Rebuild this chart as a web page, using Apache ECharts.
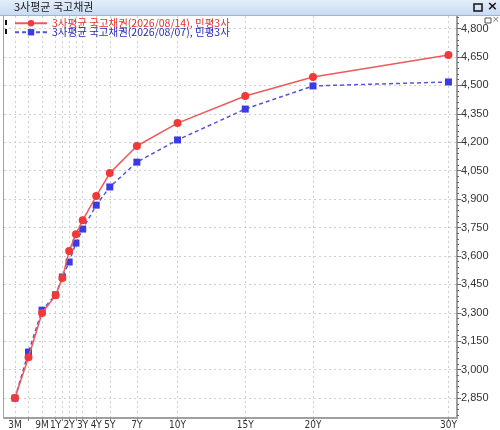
<!DOCTYPE html>
<html><head><meta charset="utf-8">
<script src="https://cdn.jsdelivr.net/npm/echarts@6/dist/echarts.min.js"></script>
<style>html,body{margin:0;padding:0;background:#fff}#c{width:500px;height:430px}</style>
</head><body><div id="c"></div>
<script>
const chartTitle = '3사평균 국고채권';
const seriesNames = ['3사평균 국고채권(2026/08/14), 민평3사', '3사평균 국고채권(2026/08/07), 민평3사'];
const tenors = ['3M','6M','9M','1Y','1.5Y','2Y','2.5Y','3Y','4Y','5Y','7Y','10Y','15Y','20Y','30Y'];
const tenorYears = [0.25,0.5,0.75,1,1.5,2,2.5,3,4,5,7,10,15,20,30];
const seriesA = [2850,3066,3299,3392,3483,3626,3715,3789,3916,4037,4180,4301,4444,4544,4660];
const seriesB = [2850,3093,3314,3395,3489,3568,3668,3742,3868,3964,4095,4212,4375,4497,4518];
const xTickLabels = ['3M','9M','1Y','2Y','3Y','4Y','5Y','7Y','10Y','15Y','20Y','30Y'];
const yTickLabels = [2850,3000,3150,3300,3450,3600,3750,3900,4050,4200,4350,4500,4650,4800];

// axis mapping: quarters below 1Y are stretched to one year-width each
function pos(t){ return t < 1 ? 4*t - 3 : t; }
const yearOf = {}; tenors.forEach((n,i)=>{ yearOf[n] = tenorYears[i]; });
const labelPos = xTickLabels.map(n => pos(yearOf[n]));
function labelFor(v){ for (const n of xTickLabels){ if (Math.abs(pos(yearOf[n]) - v) < 1e-6) return n; } return ''; }
const minorTicks = []; for (let v = 2760; v <= 4860; v += 30) minorTicks.push(v);

const chart = echarts.init(document.getElementById('c'), null, {renderer:'canvas'});
const axisFont = {fontFamily:'"Liberation Sans"', fontSize:11, color:'#333'};
const xFont = {fontFamily:'"DejaVu Sans Condensed", "Liberation Sans"', fontSize:10, color:'#333'};
const YMIN = 2745, YMAX = 4866;
const legendBase = {orient:'horizontal', left:14, itemWidth:32, itemHeight:8, itemGap:0,
  textStyle:{fontFamily:'Noto Sans CJK KR', fontSize:10.5}, padding:0};
chart.setOption({
  animation:false,
  backgroundColor:'#fff',
  graphic:[
    {type:'rect', left:0, top:0, shape:{width:500, height:15},
     style:{fill:new echarts.graphic.LinearGradient(0,0,0,1,[{offset:0,color:'#e4eefb'},{offset:1,color:'#c9dbf3'}])}, z:10},
    {type:'line', shape:{x1:0,y1:15.5,x2:500,y2:15.5}, style:{stroke:'#9fb5d3', lineWidth:1}, z:10},
    {type:'text', left:14, top:1, style:{text:chartTitle, font:'11px "Noto Sans CJK KR"', fill:'#222'}, z:11},
    {type:'rect', shape:{x:474,y:4,width:8,height:7}, style:{fill:'none', stroke:'#111', lineWidth:1.5}, z:11},
    {type:'text', left:487, top:0, style:{text:'×', font:'bold 13px "DejaVu Sans"', fill:'#111'}, z:11},
    {type:'rect', shape:{x:485,y:18,width:6,height:5}, style:{fill:'none', stroke:'#555', lineWidth:1}, z:11},
    {type:'text', left:492, top:15, style:{text:'×', font:'9px "DejaVu Sans"', fill:'#777'}, z:11},
    {type:'line', shape:{x1:3.5,y1:16,x2:3.5,y2:418}, style:{stroke:'#a0a0a0', lineWidth:1}, z:10},
    {type:'rect', shape:{x:5,y:20,width:2,height:5}, style:{fill:'#111'}, z:11},
    {type:'rect', shape:{x:5,y:29,width:2,height:5}, style:{fill:'#111'}, z:11}
  ],
  legend:[
    Object.assign({}, legendBase, {top:18, data:[{name:seriesNames[0], textStyle:{color:'#e03030'}}]}),
    Object.assign({}, legendBase, {top:27, data:[{name:seriesNames[1], textStyle:{color:'#2a2ab8'}}]})
  ],
  grid:{left:4, right:43, top:16, bottom:12},
  xAxis:{
    type:'value', min:-2.81, max:30.63,
    axisLine:{show:true, onZero:false, lineStyle:{color:'#a0a0a0', width:2}},
    axisTick:{show:true, length:3, customValues: tenorYears.map(pos), lineStyle:{color:'#888'}},
    axisLabel:{customValues:labelPos, formatter:labelFor, margin:2, ...xFont},
    splitLine:{show:true, lineStyle:{color:'#cfcfcf', type:[2,3], width:1}}
  },
  yAxis:[{
    type:'value', position:'right', min:YMIN, max:YMAX,
    axisLine:{show:true, onZero:false, lineStyle:{color:'#a0a0a0', width:2}},
    axisTick:{show:true, length:4, customValues:yTickLabels, lineStyle:{color:'#666'}},
    axisLabel:{customValues:yTickLabels, margin:4, formatter:v=>v.toLocaleString('en-US'), ...axisFont},
    splitLine:{show:true, lineStyle:{color:'#cfcfcf', type:[2,3], width:1}}
  },{
    type:'value', position:'right', min:YMIN, max:YMAX,
    axisLine:{show:false, onZero:false},
    axisTick:{show:true, length:2, customValues:minorTicks, lineStyle:{color:'#666'}},
    axisLabel:{show:false},
    splitLine:{show:false}
  }],
  series:[
    {name:seriesNames[0], type:'line', yAxisIndex:0,
     data: tenorYears.map((t,i)=>[pos(t), seriesA[i]]),
     symbol:'circle', symbolSize:8,
     itemStyle:{color:'#f03a3a'},
     lineStyle:{color:'#ec5a5a', width:1.5, type:'solid'}, z:3},
    {name:seriesNames[1], type:'line', yAxisIndex:0,
     data: tenorYears.map((t,i)=>[pos(t), seriesB[i]]),
     symbol:'rect', symbolSize:7,
     itemStyle:{color:'#3b3be6'},
     lineStyle:{color:'#5656d6', width:1.5, type:[4,3]}, z:2}
  ]
});
</script></body></html>
